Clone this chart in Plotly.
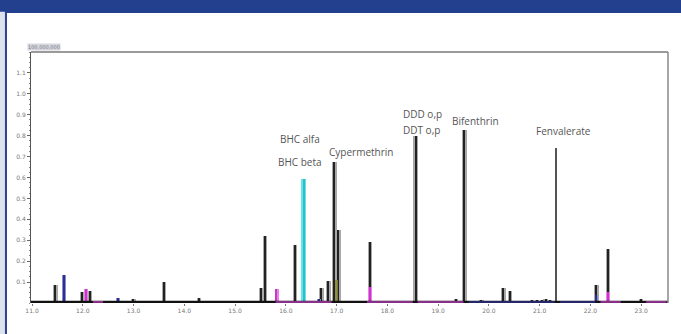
import plotly.graph_objects as go

# Retention times (min) and responses (x 100,000,000) per detector channel
black_t = [11.46, 11.99, 12.14, 13.00, 13.60, 14.29, 15.06, 15.52, 15.59, 16.18,
           16.70, 16.84, 16.96, 17.04, 17.66, 18.56, 19.35, 19.52, 19.85, 20.29,
           20.42, 20.85, 20.95, 21.05, 21.12, 21.20, 22.12, 22.35, 23.00]
black_h = [0.086, 0.054, 0.057, 0.020, 0.100, 0.025, 0.010, 0.070, 0.320, 0.276,
           0.070, 0.106, 0.673, 0.350, 0.290, 0.800, 0.020, 0.827, 0.012, 0.070,
           0.057, 0.012, 0.012, 0.015, 0.018, 0.015, 0.086, 0.260, 0.020]
thin_t = [21.33]
thin_h = [0.740]
navy_t = [11.63, 12.70, 16.66, 22.12]
navy_h = [0.133, 0.024, 0.020, 0.040]
magenta_t = [12.07, 15.82, 17.66, 22.35]
magenta_h = [0.066, 0.065, 0.075, 0.055]
cyan_t = [16.35]
cyan_h = [0.595]
olive_t = [17.00]
olive_h = [0.110]

# Baseline segments where the magenta / navy channel is on top
magenta_base = [(12.20, 12.40), (15.80, 16.90), (17.60, 18.50), (18.60, 19.50),
                (22.20, 22.60), (23.10, 23.50)]
navy_base = [(19.60, 21.30), (21.40, 22.10)]

# Compound labels
compounds = ["BHC alfa", "BHC beta", "Cypermethrin", "DDD o,p", "DDT o,p",
             "Bifenthrin", "Fenvalerate"]
label_t = [16.28, 16.28, 17.48, 18.70, 18.68, 19.73, 21.48]
label_y = [0.786, 0.676, 0.724, 0.905, 0.829, 0.871, 0.824]

y_ticks = [0.1, 0.2, 0.3, 0.4, 0.5, 0.6, 0.7, 0.8, 0.9, 1.0, 1.1]
x_ticks = [11.0, 12.0, 13.0, 14.0, 15.0, 16.0, 17.0, 18.0, 19.0, 20.0, 21.0, 22.0, 23.0]

fig = go.Figure()


def spikes(t, h, color, width, opacity=1.0):
    fig.add_trace(go.Bar(x=t, y=h, width=width, marker=dict(color=color, line=dict(width=0)),
                         opacity=opacity, showlegend=False, hoverinfo="x+y"))


# baseline
fig.add_trace(go.Scatter(x=[10.98, 23.53], y=[0.004, 0.004], mode="lines",
                         line=dict(color="#111111", width=3), showlegend=False))
for a, b in magenta_base:
    fig.add_trace(go.Scatter(x=[a, b], y=[0.005, 0.005], mode="lines",
                             line=dict(color="#b33ab3", width=1.5), showlegend=False))
for a, b in navy_base:
    fig.add_trace(go.Scatter(x=[a, b], y=[0.005, 0.005], mode="lines",
                             line=dict(color="#2b2f8a", width=1.5), showlegend=False))

# peaks: soft outer body plus dark core
spikes(black_t, black_h, "#a8a8a8", 0.09)
spikes(black_t, black_h, "#222222", 0.026)
spikes(thin_t, thin_h, "#555555", 0.022)
spikes(cyan_t, cyan_h, "#5fe6ec", 0.085)
spikes(cyan_t, cyan_h, "#3bb8c0", 0.02)
spikes(olive_t, olive_h, "#8a8a3a", 0.05, 0.85)
spikes(navy_t, navy_h, "#8a8ad0", 0.075)
spikes(navy_t, navy_h, "#2b2f8a", 0.035)
spikes(magenta_t, magenta_h, "#f07af0", 0.075)
spikes(magenta_t, magenta_h, "#c23cc0", 0.03)

for name, t, y in zip(compounds, label_t, label_y):
    fig.add_annotation(x=t, y=y, text=name, showarrow=False, xanchor="center",
                       yanchor="middle", font=dict(family="Open Sans", size=10, color="#555555"))

# scale factor tag above the y axis
fig.add_annotation(xref="paper", yref="paper", x=-0.006, y=1.005, text="100,000,000",
                   showarrow=False, xanchor="left", yanchor="bottom",
                   font=dict(family="DejaVu Sans", size=5, color="#7a7a8a"),
                   bgcolor="#d6d6de", borderpad=0)

# page decoration: header band and left edge
shapes = [
    dict(type="rect", xref="paper", yref="paper", x0=-0.06, x1=1.03, y0=1.155, y1=1.25,
         fillcolor="#23408e", line=dict(width=0), layer="below"),
    dict(type="rect", xref="paper", yref="paper", x0=-0.06, x1=-0.0409, y0=-0.2, y1=1.16,
         fillcolor="#dde2ef", line=dict(width=0), layer="below"),
    dict(type="rect", xref="paper", yref="paper", x0=-0.0409, x1=-0.0377, y0=-0.2, y1=1.16,
         fillcolor="#2a4494", line=dict(width=0), layer="below"),
    # frame
    dict(type="line", xref="paper", yref="paper", x0=0, x1=1, y0=1, y1=1,
         line=dict(color="#9a9a9a", width=2)),
    dict(type="line", xref="paper", yref="paper", x0=1, x1=1, y0=0, y1=1,
         line=dict(color="#8a8a8a", width=1.5)),
]

fig.update_layout(
    width=681, height=334,
    margin=dict(l=31, r=13, t=52, b=31),
    paper_bgcolor="white", plot_bgcolor="white",
    barmode="overlay", bargap=0,
    shapes=shapes,
    xaxis=dict(range=[10.98, 23.53], tickvals=x_ticks, tickformat=".1f",
               showgrid=False, zeroline=False, showline=False,
               ticks="outside", ticklen=2, tickcolor="#777",
               tickfont=dict(family="DejaVu Sans", size=6, color="#777")),
    yaxis=dict(range=[0, 1.2], tickvals=y_ticks, tickformat=".1f",
               showgrid=False, zeroline=False, showline=True, linecolor="#555", linewidth=1,
               ticks="outside", ticklen=3, tickcolor="#666",
               minor=dict(ticks="outside", ticklen=1.5, dtick=0.025, tickcolor="#888"),
               tickfont=dict(family="DejaVu Sans", size=6, color="#777")),
)

fig.write_html("out.html")
